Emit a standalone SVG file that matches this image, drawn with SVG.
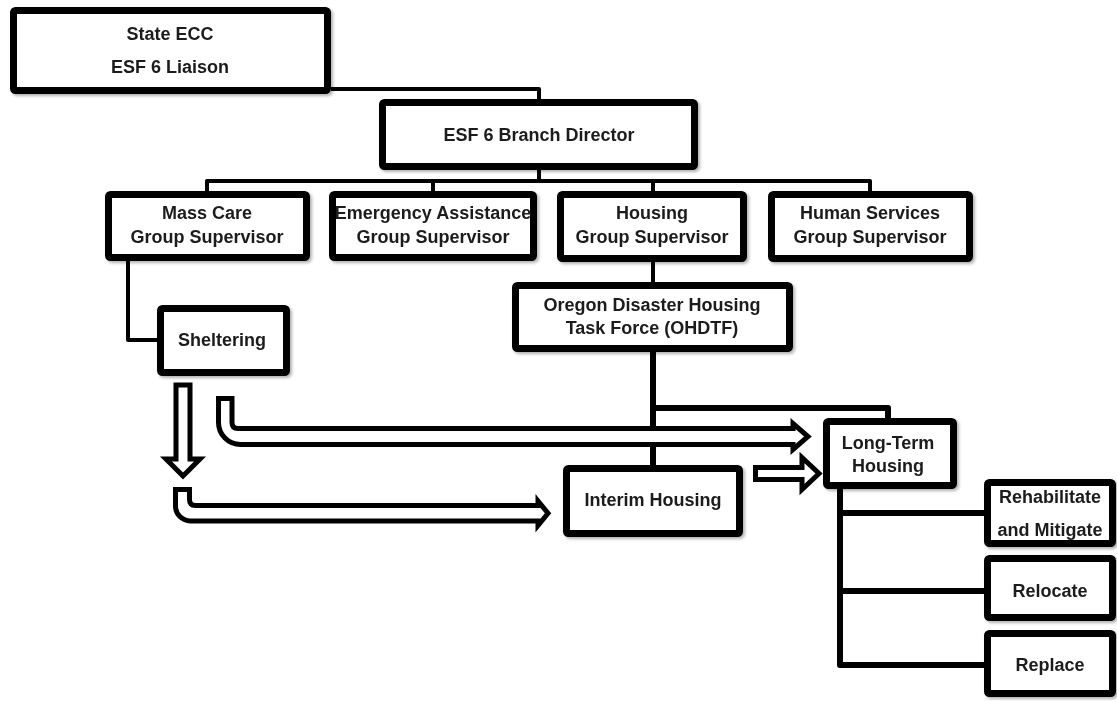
<svg xmlns="http://www.w3.org/2000/svg" width="1117" height="701" viewBox="0 0 1117 701">
<defs>
<filter id="sh" x="-10%" y="-10%" width="130%" height="140%">
<feDropShadow dx="2" dy="2" stdDeviation="1.5" flood-color="#000" flood-opacity="0.3"/>
</filter>
</defs>
<style>
.box{fill:#fff;stroke:#000;stroke-width:7;stroke-linejoin:round}
.t{font-family:"Liberation Sans",Arial,sans-serif;font-weight:bold;font-size:18px;fill:#1a1a1a;text-anchor:middle}
.thin{fill:none;stroke:#000;stroke-width:4;stroke-linejoin:round}
.thick{fill:none;stroke:#000;stroke-width:6;stroke-linejoin:round}
.barrow{fill:#fff;stroke:#000;stroke-width:5;stroke-linejoin:miter}
</style>
<rect width="1117" height="701" fill="#fff"/>
<g id="connectors">
<path class="thin" d="M331 89 H539 V99"/>
<path class="thin" d="M539 170 V181"/>
<path class="thin" d="M207 191 V181 H870 V191"/>
<path class="thin" d="M433 181 V191"/>
<path class="thin" d="M653 181 V191"/>
<path class="thin" d="M128 261 V340 H157"/>
<path class="thin" d="M653 262 V282"/>
<path class="thick" d="M653 352 V465"/>
<path class="thick" d="M653 408 H888 V418"/>
<path class="thick" d="M840 489 V665 H984"/>
<path class="thick" d="M840 513 H984"/>
<path class="thick" d="M840 591 H984"/>
<path id="arrow-down" class="barrow" d="M176 385 H190 V459 H200 L183 476 L166 459 H176 Z"/>
<path id="arrow-longterm" class="barrow" d="M218.5 398.5 H232 V422.5 Q232 428.5 238 428.5 H793 V423.5 L808 436.5 L793 449.5 V444.5 H240.5 A22 22 0 0 1 218.5 422.5 Z"/>
<path id="arrow-interim" class="barrow" d="M175.5 489.5 H189.5 V499.5 Q189.5 505.5 195.5 505.5 H538 V501 L548 513.25 L538 525.5 V521 H190.5 A15 15 0 0 1 175.5 506 Z"/>
<path id="arrow-small" class="barrow" d="M755.5 467.5 H802 V457.5 L819 473.5 L802 489.5 V479.5 H755.5 Z"/>
</g>
<g id="state-ecc" filter="url(#sh)">
<rect class="box" x="13.5" y="10.5" width="314" height="80" rx="2"/>
<text class="t" x="170" y="40">State ECC</text>
<text class="t" x="170" y="73">ESF 6 Liaison</text>
</g>
<g id="branch-director" filter="url(#sh)">
<rect class="box" x="382.5" y="102.5" width="312" height="64" rx="2"/>
<text class="t" x="539" y="141">ESF 6 Branch Director</text>
</g>
<g id="mass-care" filter="url(#sh)">
<rect class="box" x="108.5" y="194.5" width="198" height="63" rx="2"/>
<text class="t" x="207" y="219">Mass Care</text>
<text class="t" x="207" y="243">Group Supervisor</text>
</g>
<g id="emergency-assistance" filter="url(#sh)">
<rect class="box" x="332.5" y="194.5" width="201" height="63" rx="2"/>
<text class="t" x="433" y="219">Emergency Assistance</text>
<text class="t" x="433" y="243">Group Supervisor</text>
</g>
<g id="housing" filter="url(#sh)">
<rect class="box" x="560.5" y="194.5" width="183" height="64" rx="2"/>
<text class="t" x="652" y="219">Housing</text>
<text class="t" x="652" y="243">Group Supervisor</text>
</g>
<g id="human-services" filter="url(#sh)">
<rect class="box" x="771.5" y="194.5" width="198" height="64" rx="2"/>
<text class="t" x="870" y="219">Human Services</text>
<text class="t" x="870" y="243">Group Supervisor</text>
</g>
<g id="sheltering" filter="url(#sh)">
<rect class="box" x="160.5" y="308.5" width="126" height="64" rx="2"/>
<text class="t" x="222" y="346">Sheltering</text>
</g>
<g id="ohdtf" filter="url(#sh)">
<rect class="box" x="515.5" y="285.5" width="274" height="63" rx="2"/>
<text class="t" x="652" y="311">Oregon Disaster Housing</text>
<text class="t" x="652" y="334">Task Force (OHDTF)</text>
</g>
<g id="interim-housing" filter="url(#sh)">
<rect class="box" x="566.5" y="468.5" width="173" height="65" rx="2"/>
<text class="t" x="653" y="506">Interim Housing</text>
</g>
<g id="long-term-housing" filter="url(#sh)">
<rect class="box" x="826.5" y="421.5" width="127" height="64" rx="2"/>
<text class="t" x="888" y="449">Long-Term</text>
<text class="t" x="888" y="472">Housing</text>
</g>
<g id="rehabilitate" filter="url(#sh)">
<rect class="box" x="987.5" y="482.5" width="125" height="61" rx="2"/>
<text class="t" x="1050" y="503">Rehabilitate</text>
<text class="t" x="1050" y="536">and Mitigate</text>
</g>
<g id="relocate" filter="url(#sh)">
<rect class="box" x="987.5" y="558.5" width="125" height="59" rx="2"/>
<text class="t" x="1050" y="597">Relocate</text>
</g>
<g id="replace" filter="url(#sh)">
<rect class="box" x="987.5" y="633.5" width="125" height="60" rx="2"/>
<text class="t" x="1050" y="671">Replace</text>
</g>
</svg>
